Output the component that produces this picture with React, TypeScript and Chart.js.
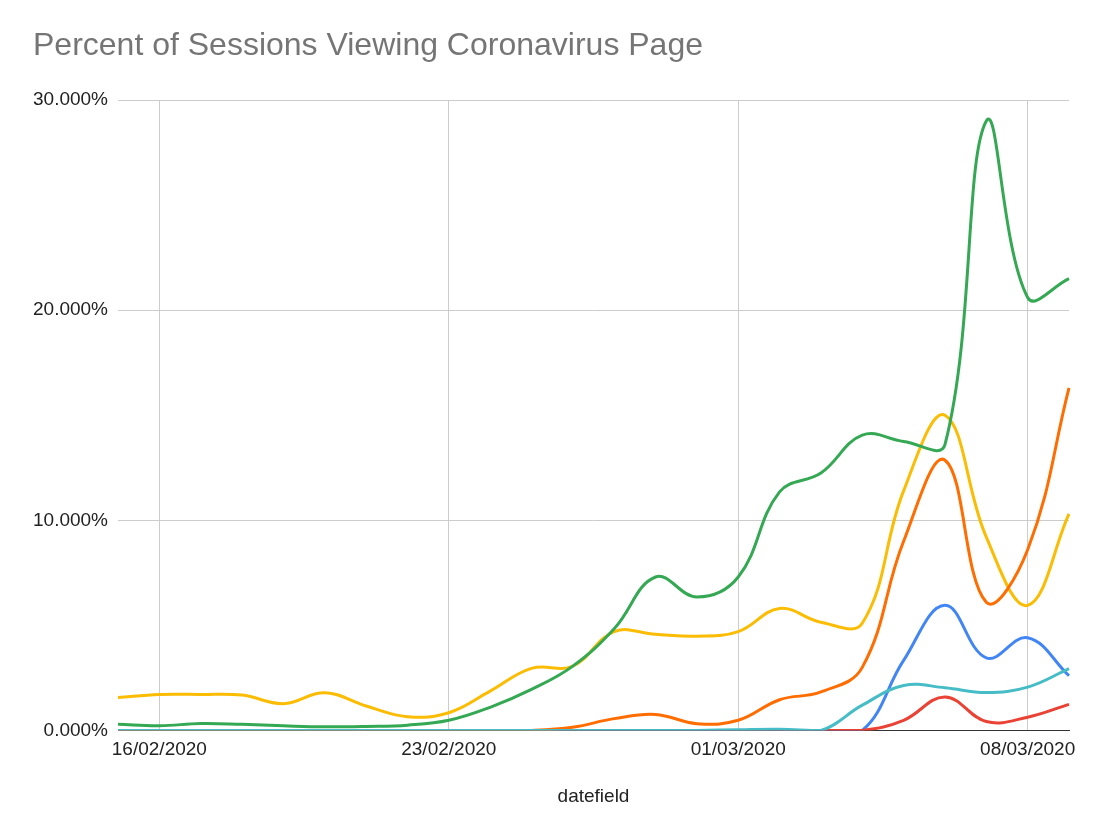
import React, { useEffect, useRef } from "react";
import { Chart, registerables } from "chart.js";

Chart.register(...registerables);

const dates = [
  "15/02/2020", "16/02/2020", "17/02/2020", "18/02/2020", "19/02/2020", "20/02/2020",
  "21/02/2020", "22/02/2020", "23/02/2020", "24/02/2020", "25/02/2020", "26/02/2020",
  "27/02/2020", "28/02/2020", "29/02/2020", "01/03/2020", "02/03/2020", "03/03/2020",
  "04/03/2020", "05/03/2020", "06/03/2020", "07/03/2020", "08/03/2020", "09/03/2020",
];

const tickLabels = ["16/02/2020", "23/02/2020", "01/03/2020", "08/03/2020"];
const yTicks = [0, 10, 20, 30];

const blueValues = [0, 0, 0, 0, 0, 0, 0, 0, 0, 0, 0, 0, 0, 0, 0, 0, 0, 0, 0, 3.33, 5.95, 3.45, 4.41, 2.6];
const redValues = [0, 0, 0, 0, 0, 0, 0, 0, 0, 0, 0, 0, 0, 0, 0, 0, 0, 0, 0, 0.48, 1.59, 0.42, 0.63, 1.24];
const yellowValues = [1.56, 1.71, 1.71, 1.68, 1.27, 1.79, 1.16, 0.65, 0.84, 1.87, 2.95, 3.06, 4.7, 4.57, 4.48, 4.7, 5.8, 5.15, 5.1, 11.4, 15.0, 9.2, 5.95, 10.3];
const greenValues = [0.29, 0.22, 0.33, 0.29, 0.22, 0.17, 0.19, 0.25, 0.48, 1.1, 1.95, 3.06, 4.84, 7.3, 6.35, 7.3, 11.35, 12.25, 14.05, 13.75, 13.6, 29.0, 20.6, 21.5];
const orangeValues = [0, 0, 0, 0, 0, 0, 0, 0, 0, 0, 0, 0.15, 0.56, 0.76, 0.32, 0.48, 1.46, 1.83, 3.0, 9.0, 12.86, 6.1, 8.6, 16.3];
const cyanValues = [0, 0, 0, 0, 0, 0, 0, 0, 0, 0, 0, 0, 0, 0, 0, 0.03, 0.05, 0, 1.2, 2.14, 2.03, 1.8, 2.06, 2.94];

const seriesNames = ["Series 1", "Series 2", "Series 3", "Series 4", "Series 5", "Series 6"];
const seriesColors = ["#4285f4", "#ea4335", "#fbbc04", "#34a853", "#ff6d01", "#46bdc6"];
const seriesValues = [blueValues, redValues, yellowValues, greenValues, orangeValues, cyanValues];

const FONT = "'Liberation Sans', Arial, Helvetica, sans-serif";

export default function App() {
  const ref = useRef<HTMLCanvasElement | null>(null);

  useEffect(() => {
    if (!ref.current) return;
    const chart = new Chart(ref.current, {
      type: "line",
      data: {
        labels: dates,
        datasets: seriesValues.map((vals, i) => ({
          label: seriesNames[i],
          data: vals,
          borderColor: seriesColors[i],
          backgroundColor: seriesColors[i],
          borderWidth: 3,
          pointRadius: 0,
          pointHoverRadius: 0,
          tension: 0.4,
          fill: false,
          order: seriesValues.length - i,
        })),
      },
      options: {
        responsive: false,
        animation: false,
        layout: { padding: { left: 33, right: 36, top: 0, bottom: 0 } },
        plugins: {
          legend: { display: false },
          tooltip: { enabled: false },
          title: {
            display: true,
            text: "Percent of Sessions Viewing Coronavirus Page",
            align: "start",
            color: "#757575",
            font: { family: FONT, size: 32, weight: "normal", lineHeight: 1.2 },
            padding: { top: 27, bottom: 34.6 },
          },
        },
        scales: {
          x: {
            type: "category",
            offset: false,
            grid: {
              drawTicks: false,
              color: (ctx: any) =>
                tickLabels.includes(dates[ctx.index]) ? "#cccccc" : "rgba(0,0,0,0)",
              lineWidth: 1,
            },
            border: { display: true, color: "#333333", width: 1 },
            ticks: {
              autoSkip: false,
              maxRotation: 0,
              minRotation: 0,
              padding: 8,
              color: "#222222",
              font: { family: FONT, size: 19 },
              callback: (_v: any, idx: number) =>
                tickLabels.includes(dates[idx]) ? dates[idx] : "",
            },
            title: {
              display: true,
              text: "datefield",
              color: "#222222",
              font: { family: FONT, size: 19 },
              padding: { top: 16, bottom: 8 },
            },
          },
          y: {
            min: 0,
            max: 30,
            afterFit: (scale: any) => {
              scale.width = 85;
            },
            afterBuildTicks: (scale: any) => {
              scale.ticks = yTicks.map((v) => ({ value: v }));
            },
            grid: {
              drawTicks: false,
              color: "#cccccc",
              lineWidth: 1,
            },
            border: { display: false },
            ticks: {
              padding: 10,
              color: "#222222",
              font: { family: FONT, size: 19 },
              callback: (v: any) => Number(v).toFixed(3) + "%",
            },
          },
        },
      },
    });
    return () => chart.destroy();
  }, []);

  return (
    <div style={{ position: "absolute", left: 0, top: 0, width: 1105, height: 816, background: "#fff" }}>
      <canvas ref={ref} width={1105} height={816} style={{ display: "block" }} />
    </div>
  );
}
